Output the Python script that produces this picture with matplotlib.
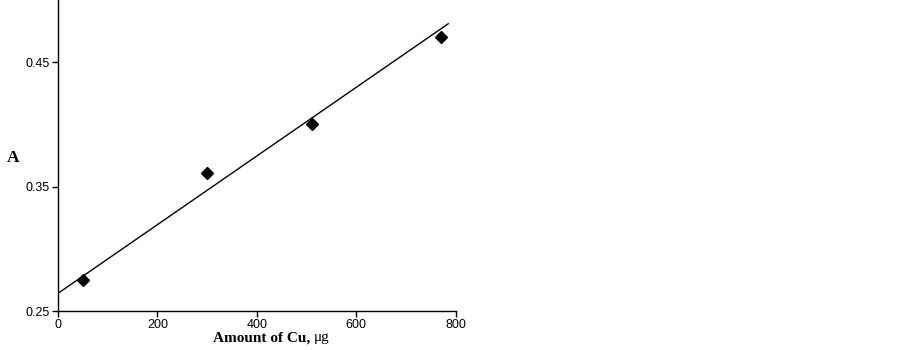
import matplotlib.pyplot as plt

# datos
cu_amount = [50, 300, 510, 770]
absorbance = [0.275, 0.361, 0.400, 0.470]

# recta de calibracion (extremos leidos)
fit_x = [0, 785]
fit_y = [0.2642, 0.4809]

x_ticks = [0, 200, 400, 600, 800]
y_ticks = [0.25, 0.35, 0.45]

fig = plt.figure(figsize=(9.03, 3.5), dpi=100)
ax = fig.add_axes([58 / 903, 1 - 311 / 350, (455.7 - 58) / 903, 311 / 350])

ax.plot(fit_x, fit_y, color='black', lw=1.0)
ax.plot(cu_amount, absorbance, linestyle='none', marker='D', ms=6.5,
        color='black')

ax.set_xlim(0, 800)
ax.set_ylim(0.25, 0.5)
ax.set_xticks(x_ticks)
ax.set_yticks(y_ticks)
ax.set_yticklabels([f'{v:.2f}' for v in y_ticks])

for s in ['top', 'right']:
    ax.spines[s].set_visible(False)
for s in ['left', 'bottom']:
    ax.spines[s].set_linewidth(1.0)

ax.tick_params(direction='out', length=4, width=1, pad=2, labelsize=9)
for lab in ax.get_xticklabels() + ax.get_yticklabels():
    lab.set_fontfamily('Liberation Sans')

# etiqueta del eje x: parte en negrita + unidades normales
fig.text(314 / 903, 1 - 338 / 350, 'Amount of Cu, ', ha='right', va='center',
         fontsize=11, fontweight='bold', family='Liberation Serif')
fig.text(314 / 903, 1 - 338 / 350, 'μg', ha='left', va='center',
         fontsize=11, family='Liberation Serif')
fig.text(13 / 903, 1 - 158 / 350, 'A', ha='center', va='center',
         fontsize=12.5, fontweight='bold', family='Liberation Serif')

fig.savefig('out.png', dpi=100)
